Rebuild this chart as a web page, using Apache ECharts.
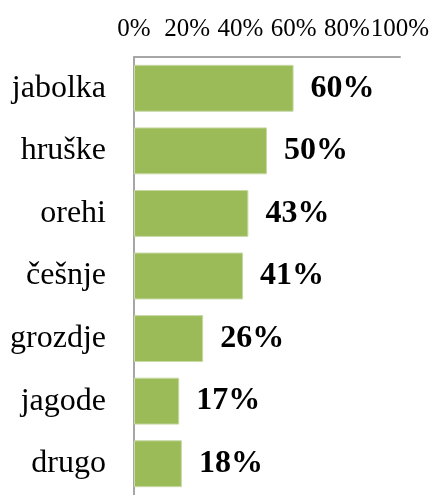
<!DOCTYPE html>
<html>
<head>
<meta charset="utf-8">
<script src="https://cdn.jsdelivr.net/npm/echarts@6/dist/echarts.min.js"></script>
<style>
  html, body { margin: 0; padding: 0; background: #fff; }
  #chart { width: 435px; height: 495px; }
</style>
</head>
<body>
<div id="chart"></div>
<script>
// podatki
var categories = ['jabolka', 'hruške', 'orehi', 'češnje', 'grozdje', 'jagode', 'drugo']
var values = [60, 50, 43, 41, 26, 17, 18]

;(function () {
  var myChart = echarts.init(document.getElementById('chart'))
  var serif = '"Liberation Serif", "Times New Roman", serif'

  var option = {
    animation: false,
    grid: {
      left: 134,
      right: 35,
      top: 57,
      height: 448,
      containLabel: false,
    },
    xAxis: {
      type: 'value',
      position: 'top',
      min: 0,
      max: 100,
      interval: 20,
      axisLabel: {
        formatter: '{value}%',
        color: '#000',
        fontFamily: serif,
        fontSize: 25,
        margin: 15,
      },
      axisLine: { show: true, lineStyle: { color: '#A6A6A6', width: 2 } },
      axisTick: { show: false },
      splitLine: { show: false },
    },
    yAxis: {
      type: 'category',
      inverse: true,
      data: categories,
      axisLabel: {
        color: '#000',
        fontFamily: serif,
        fontSize: 32,
        margin: 28,
      },
      axisLine: { show: true, lineStyle: { color: '#A6A6A6', width: 2 } },
      axisTick: { show: false },
    },
    series: [
      {
        type: 'bar',
        data: values,
        barCategoryGap: '25%',
        itemStyle: {
          color: '#9BBB59',
          borderColor: '#C9DAA6',
          borderWidth: 1,
        },
        label: {
          show: true,
          position: 'right',
          distance: 17,
          formatter: '{c}%',
          color: '#000',
          fontFamily: serif,
          fontWeight: 'bold',
          fontSize: 32,
        },
      },
    ],
  }
  myChart.setOption(option)
})()
</script>
</body>
</html>
